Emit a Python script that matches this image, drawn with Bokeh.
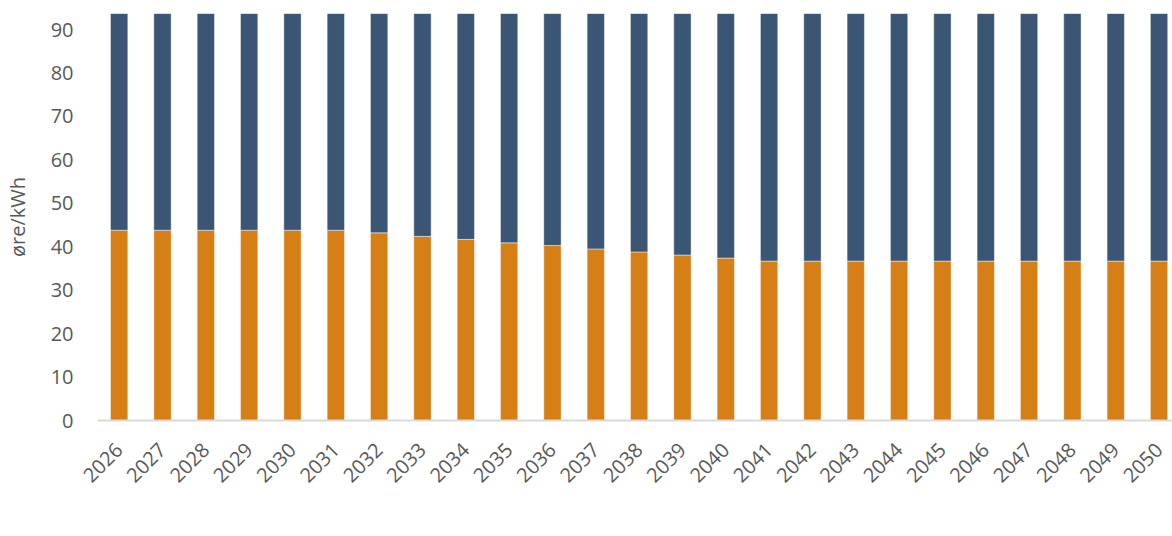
import math
from bokeh.plotting import figure
from bokeh.models import ColumnDataSource, Range1d, FixedTicker, Legend, LegendItem
from bokeh.embed import file_html
from bokeh.resources import INLINE

years = [2026, 2027, 2028, 2029, 2030, 2031, 2032, 2033, 2034, 2035, 2036, 2037, 2038,
         2039, 2040, 2041, 2042, 2043, 2044, 2045, 2046, 2047, 2048, 2049, 2050]
year_labels = [str(y) for y in years]
kraftpris = [43.8, 43.8, 43.8, 43.8, 43.8, 43.8, 43.2, 42.4, 41.7, 40.9, 40.3, 39.5, 38.8,
             38.1, 37.4, 36.7, 36.7, 36.7, 36.7, 36.7, 36.7, 36.7, 36.7, 36.7, 36.7]
paslag = [49.9, 49.9, 49.9, 49.9, 49.9, 49.9, 50.5, 51.3, 52.0, 52.8, 53.4, 54.2, 54.9,
          55.6, 56.3, 57.0, 57.0, 57.0, 57.0, 57.0, 57.0, 57.0, 57.0, 57.0, 57.0]
series = ["Kraftpris", "Påslag"]
colors = ["#D77F17", "#3A5674"]

FONT = "Open Sans"
TXT = "#595959"

source = ColumnDataSource(dict(year=years, Kraftpris=kraftpris, Påslag=paslag))

p = figure(width=1172, height=536, frame_width=1075, frame_height=407,
           x_range=Range1d(2025.5, 2050.31), y_range=Range1d(0, 93.7),
           output_backend="svg", toolbar_location=None,
           min_border_left=97, min_border_top=13, min_border_right=0, min_border_bottom=116)
p.outline_line_color = None
p.xgrid.visible = False
p.ygrid.visible = False

rs = p.vbar_stack(series, x="year", width=0.4, source=source, color=colors,
                  line_color="white", line_alpha=0.45, line_width=1)

# x axis
xa = p.xaxis[0]
xa.ticker = FixedTicker(ticks=years)
xa.major_label_overrides = {y: l for y, l in zip(years, year_labels)}
xa.major_label_orientation = math.pi / 4
xa.axis_line_color = "#D9D9D9"
xa.axis_line_width = 2
xa.major_tick_line_color = None
xa.minor_tick_line_color = None
xa.major_tick_out = 0
xa.major_tick_in = 0
xa.major_label_standoff = 26
xa.major_label_text_font = FONT
xa.major_label_text_font_size = "20px"
xa.major_label_text_color = TXT

# y axis
ya = p.yaxis[0]
ya.ticker = FixedTicker(ticks=[0, 10, 20, 30, 40, 50, 60, 70, 80, 90])
ya.axis_line_color = None
ya.major_tick_line_color = None
ya.minor_tick_line_color = None
ya.major_tick_out = 0
ya.major_tick_in = 0
ya.major_label_standoff = 24
ya.major_label_text_font = FONT
ya.major_label_text_font_size = "20px"
ya.major_label_text_color = TXT
ya.axis_label = "øre/kWh"
ya.axis_label_text_font = FONT
ya.axis_label_text_font_size = "20px"
ya.axis_label_text_font_style = "normal"
ya.axis_label_text_color = TXT
ya.axis_label_standoff = 17

legend = Legend(items=[LegendItem(label=s, renderers=[r]) for s, r in zip(series, rs)],
                orientation="horizontal", location=(398, 2),
                glyph_width=12, glyph_height=12, label_standoff=8, spacing=21,
                padding=0, margin=0, label_height=20,
                label_text_font=FONT, label_text_font_size="20px", label_text_color=TXT,
                border_line_color=None, background_fill_alpha=0)
p.add_layout(legend, "below")

open("out.html", "w").write(file_html(p, INLINE))
